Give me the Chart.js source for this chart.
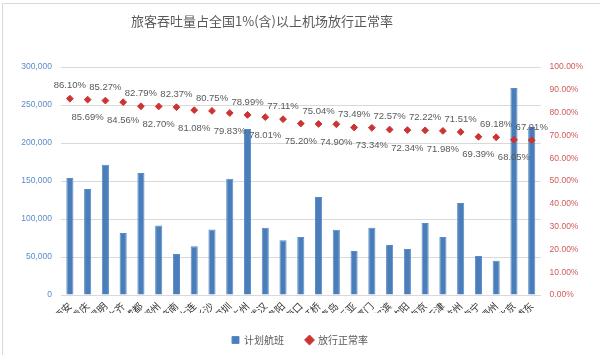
<!DOCTYPE html>
<html>
<head>
<meta charset="utf-8">
<script src="https://cdn.jsdelivr.net/npm/chart.js@4"></script>
<style>
html,body{margin:0;padding:0;background:#fff;}
#wrap{position:relative;width:600px;height:355px;}
#frame{position:absolute;left:2px;top:3px;width:600px;height:360px;border-left:1px solid #d9d9d9;border-top:1px solid #d9d9d9;box-sizing:border-box;pointer-events:none;}
#title{position:absolute;left:0;top:12px;width:524px;text-align:center;font-family:"Noto Sans CJK SC",sans-serif;font-size:13px;color:#595959;line-height:18px;}
canvas{position:absolute;left:0;top:0;}
</style>
</head>
<body>
<div id="wrap">
<canvas id="c" width="600" height="355"></canvas>
<div id="frame"></div>
<div id="title">旅客吞吐量占全国1%(含)以上机场放行正常率</div>
</div>
<script>
const categories = ["西安","重庆","昆明","乌鲁木齐","成都","郑州","济南","大连","长沙","深圳","广州","武汉","贵阳","海口","虹桥","青岛","三亚","厦门","哈尔滨","沈阳","南京","天津","杭州","南宁","福州","北京","浦东"];
const plannedFlights = [154000,139500,171500,81600,160600,91600,54000,64000,86300,153000,218500,88600,71900,76300,129000,85900,57900,88600,65800,60500,94700,76300,121000,51300,45100,272400,221000];
const onTimeRate = [86.10,85.69,85.27,84.56,82.79,82.70,82.37,81.08,80.75,79.83,78.99,78.01,77.11,75.20,75.04,74.90,73.49,73.34,72.57,72.34,72.22,71.98,71.51,69.39,69.18,68.05,67.91];
const seriesNames = ["计划航班","放行正常率"];

const labelPlugin = {
  id: 'pctLabels',
  afterDatasetsDraw(chart) {
    const meta = chart.getDatasetMeta(1);
    const ctx = chart.ctx;
    ctx.save();
    ctx.font = '9.5px "Liberation Sans", Arial, sans-serif';
    ctx.fillStyle = '#595959';
    ctx.textAlign = 'center';
    ctx.textBaseline = 'middle';
    meta.data.forEach((pt, i) => {
      const v = chart.data.datasets[1].data[i];
      const y = (i % 2 === 0) ? pt.y - 13 : pt.y + 18;
      ctx.fillText(v.toFixed(2) + '%', pt.x, y);
    });
    ctx.restore();
  }
};

new Chart(document.getElementById('c'), {
  data: {
    labels: categories,
    datasets: [
      {
        type: 'bar',
        label: seriesNames[0],
        data: plannedFlights,
        yAxisID: 'y',
        backgroundColor: '#4A7EBB',
        borderColor: '#5A8BC6',
        borderWidth: 1,
        barPercentage: 0.4,
        categoryPercentage: 1.0,
        pointStyle: 'rect',
        order: 2
      },
      {
        type: 'line',
        label: seriesNames[1],
        data: onTimeRate,
        yAxisID: 'y1',
        showLine: false,
        pointStyle: 'rectRot',
        pointRadius: 3.4,
        pointBackgroundColor: '#CC3333',
        pointBorderColor: '#CC3333',
        pointBorderWidth: 1,
        backgroundColor: '#CC3333',
        borderColor: '#CC3333',
        order: 1
      }
    ]
  },
  options: {
    responsive: false,
    animation: false,
    layout: { padding: { top: 67, left: 0, right: 0, bottom: 0 } },
    plugins: {
      title: { display: false },
      tooltip: { enabled: false },
      legend: {
        position: 'bottom',
        maxHeight: 42,
        labels: {
          usePointStyle: true,
          boxWidth: 7,
          boxHeight: 7,
          padding: 22,
          color: '#595959',
          font: { family: '"Noto Sans CJK SC", sans-serif', size: 10 },
          sort: (a, b) => a.datasetIndex - b.datasetIndex
        }
      }
    },
    scales: {
      x: {
        grid: { display: false, drawTicks: false },
        border: { display: true, color: '#d9d9d9' },
        ticks: {
          autoSkip: false,
          maxRotation: 45,
          minRotation: 45,
          padding: 5,
          color: '#333333',
          font: { family: '"Noto Sans CJK SC", sans-serif', size: 10 }
        },
        afterFit(scale) { scale.height = 18; }
      },
      y: {
        position: 'left',
        min: 0,
        max: 300000,
        grid: { color: '#d9d9d9', drawTicks: false },
        border: { display: false },
        ticks: {
          stepSize: 50000,
          padding: 9,
          color: '#5B8BC9',
          font: { family: '"Liberation Sans", Arial, sans-serif', size: 8.5 }
        },
        afterFit(scale) { scale.width = 61; }
      },
      y1: {
        position: 'right',
        min: 0,
        max: 100,
        grid: { display: false, drawTicks: false },
        border: { display: false },
        ticks: {
          stepSize: 10,
          padding: 9,
          color: '#D05A5A',
          font: { family: '"Liberation Sans", Arial, sans-serif', size: 8.5 },
          callback: (v) => v.toFixed(2) + '%'
        },
        afterFit(scale) { scale.width = 59.4; }
      }
    }
  },
  plugins: [labelPlugin]
});
</script>
</body>
</html>
